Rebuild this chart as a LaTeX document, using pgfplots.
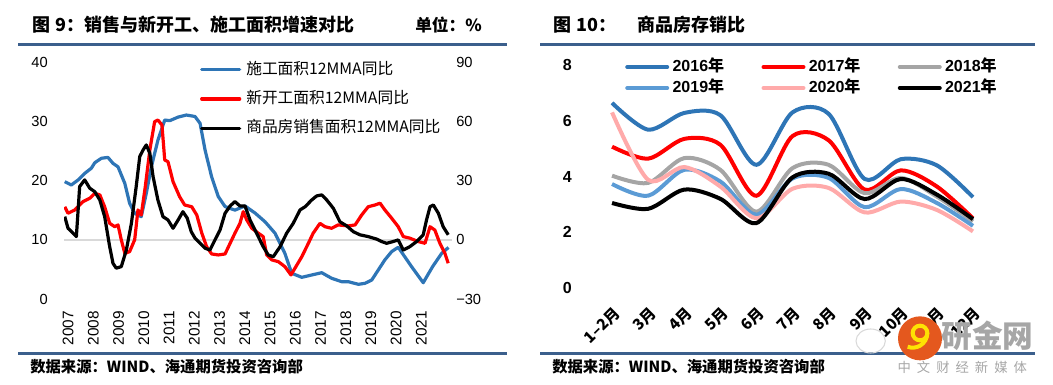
\documentclass[border=0pt]{standalone}
\usepackage{fontspec}
\setmainfont{Liberation Sans}
\newfontfamily\cjk{Noto Sans CJK SC}
\usepackage{pgfplots}
\pgfplotsset{compat=1.18}
\definecolor{rulec}{RGB}{59,95,140}
\definecolor{xblue}{RGB}{46,117,182}
\definecolor{xred}{RGB}{255,0,0}
\definecolor{c16}{RGB}{46,117,182}
\definecolor{c17}{RGB}{255,0,0}
\definecolor{c18}{RGB}{165,165,165}
\definecolor{c19}{RGB}{91,155,213}
\definecolor{c20}{RGB}{255,170,170}
\definecolor{c21}{RGB}{0,0,0}
\definecolor{logoor}{RGB}{228,88,30}
\begin{document}
\begin{tikzpicture}
\useasboundingbox (0,0) rectangle (789.75pt,288.75pt);
% rules
\fill[rulec] (13.5pt,254.25pt) rectangle (380.25pt,256.5pt);
\fill[rulec] (13.5pt,22.5pt) rectangle (380.25pt,24.75pt);
\fill[rulec] (405pt,254.25pt) rectangle (776.25pt,256.5pt);
\fill[rulec] (405pt,22.5pt) rectangle (776.25pt,24.75pt);
% titles
\node[anchor=west,inner sep=0pt] at (24pt,270pt) {\cjk\bfseries\fontsize{13.5}{15}\selectfont 图\hspace{4pt}9：销售与新开工、施工面积增速对比};
\node[anchor=west,inner sep=0pt] at (311.25pt,270pt) {\cjk\bfseries\fontsize{12.5}{14}\selectfont 单位：\%};
\node[anchor=west,inner sep=0pt] at (414.75pt,270pt) {\cjk\bfseries\fontsize{13.5}{15}\selectfont 图\hspace{4pt}10：};
\node[anchor=west,inner sep=0pt] at (477.75pt,270pt) {\cjk\bfseries\fontsize{13.5}{15}\selectfont 商品房存销比};
\node[anchor=west,inner sep=0pt] at (22.5pt,13.5pt) {\cjk\bfseries\fontsize{11.5}{13}\selectfont 数据来源：WIND、海通期货投资咨询部};
\node[anchor=west,inner sep=0pt] at (414pt,13.5pt) {\cjk\bfseries\fontsize{11.5}{13}\selectfont 数据来源：WIND、海通期货投资咨询部};

% ---------- left panel, left axis ----------
\begin{axis}[
  at={(48pt,64.5pt)}, anchor=south west, width=291pt, height=177.75pt, scale only axis,
  xmin=2006.84, xmax=2022.21, ymin=0, ymax=40,
  axis line style={draw=none}, major tick length=0pt,
  ytick={0,10,20,30,40},
  /pgf/number format/assume math mode=true,
  yticklabel style={font=\fontsize{11}{13}\selectfont, inner sep=0pt},
  yticklabel shift=12pt,
  xtick={2007,2008,2009,2010,2011,2012,2013,2014,2015,2016,2017,2018,2019,2020,2021},
  xticklabels={2007,2008,2009,2010,2011,2012,2013,2014,2015,2016,2017,2018,2019,2020,2021},
  xticklabel style={font=\fontsize{11.5}{13}\selectfont, rotate=90, anchor=east, inner sep=0pt},
  xticklabel shift=9pt,
  extra y ticks={10}, extra y tick labels={},
  extra y tick style={grid=major, major grid style={draw=black!15, line width=1.2pt}},
]
\addplot[xblue, line width=2.4pt, line join=round] coordinates {
(2006.87,19.8)(2007.13,19.24)(2007.40,20.1)(2007.66,21.2)(2007.92,22.06)(2008.06,23.0)(2008.32,23.75)(2008.58,23.9)(2008.78,22.9)(2008.98,22.3)(2009.25,19.5)(2009.44,16.15)(2009.64,14.46)(2009.90,13.9)(2010.10,17.84)(2010.30,22.3)(2010.56,26.8)(2010.83,30.2)(2011.03,30.1)(2011.36,30.7)(2011.69,31.05)(2012.03,30.8)(2012.23,29.65)(2012.43,25.1)(2012.69,20.6)(2012.95,17.3)(2013.22,15.6)(2013.61,15.0)(2014.01,15.7)(2014.41,14.5)(2014.80,13.05)(2015.20,11.1)(2015.59,7.7)(2015.86,4.34)(2016.26,3.66)(2016.65,4.05)(2017.05,4.44)(2017.44,3.5)(2017.84,2.92)(2018.10,2.92)(2018.50,2.48)(2018.76,2.64)(2019.03,3.2)(2019.29,4.9)(2019.55,6.6)(2019.82,8.0)(2020.08,8.73)(2020.61,5.45)(2021.07,2.75)(2021.44,5.45)(2021.80,7.7)(2022.07,8.7)
};
\end{axis}

% ---------- left panel, right axis ----------
\begin{axis}[
  at={(48pt,64.5pt)}, anchor=south west, width=291pt, height=177.75pt, scale only axis,
  xmin=2006.84, xmax=2022.21, ymin=-30, ymax=90,
  hide x axis, axis y line*=right,
  axis line style={draw=none}, major tick length=0pt,
  ytick={-30,0,30,60,90}, yticklabels={−30,0,30,60,90},
  yticklabel style={font=\fontsize{11}{13}\selectfont, anchor=west, inner sep=0pt},
  yticklabel shift=3pt,
  legend cell align=left,
  legend image code/.code={\draw[#1, line cap=round] (0pt,0pt) -- (28.5pt,0pt);},
  legend style={at={(0.35,1.0)}, anchor=north west, draw=none, fill=none, inner sep=0pt,
    row sep=11pt, font=\cjk\fontsize{11.8}{13}\selectfont,
    nodes={inner sep=0pt, text height=9pt, text depth=2pt},
    /tikz/every odd column/.append style={column sep=3.75pt}},
]
\addlegendimage{xblue, line width=2.4pt}
\addlegendentry{施工面积12MMA同比}
\addplot[xred, line width=2.4pt, line join=round] coordinates {
(2006.87,16.7)(2007.0,13.4)(2007.27,15.1)(2007.59,19.3)(2007.86,21.0)(2008.06,23.5)(2008.26,22.7)(2008.45,16.7)(2008.65,8.3)(2008.85,6.6)(2008.98,7.5)(2009.11,-0.1)(2009.25,-6.9)(2009.44,-6.0)(2009.64,0)(2009.77,15.1)(2009.90,12.5)(2010.06,26.9)(2010.24,45.4)(2010.43,59.8)(2010.56,60.6)(2010.72,58.1)(2010.83,40.4)(2010.96,39.5)(2011.16,29.4)(2011.42,21.8)(2011.62,17.6)(2011.90,16.7)(2012.10,12.5)(2012.30,3.3)(2012.49,-3.5)(2012.69,-7.2)(2012.95,-7.7)(2013.22,-7.2)(2013.42,-1.8)(2013.61,3.3)(2013.81,8.3)(2013.94,14.2)(2014.08,10.0)(2014.28,5.8)(2014.54,3.3)(2014.73,1.6)(2014.87,-7.7)(2015.07,-10.2)(2015.33,-11.1)(2015.59,-13.6)(2015.83,-17.8)(2015.99,-14.4)(2016.26,-8.6)(2016.52,-1.8)(2016.71,3.3)(2016.98,8.3)(2017.18,6.6)(2017.44,5.8)(2017.70,7.5)(2018.10,7.0)(2018.37,7.5)(2018.63,12.5)(2018.89,16.7)(2019.16,17.6)(2019.36,18.5)(2019.55,15.1)(2019.82,10.9)(2020.08,6.6)(2020.28,1.6)(2020.54,0.8)(2020.87,-0.9)(2021.14,-1.8)(2021.34,6.6)(2021.53,4.9)(2021.73,-1.8)(2021.93,-6.9)(2022.06,-11.9)
};
\addlegendentry{新开工面积12MMA同比}
\addplot[black, line width=2.4pt, line join=round] coordinates {
(2006.87,11.7)(2007.0,5.8)(2007.2,3.3)(2007.33,1.6)(2007.46,26.9)(2007.66,30.3)(2007.86,26.1)(2008.06,24.3)(2008.26,20.1)(2008.45,11.7)(2008.65,-3.5)(2008.78,-11.9)(2008.91,-14.4)(2009.11,-13.6)(2009.31,-5.2)(2009.51,8.3)(2009.70,26.9)(2009.84,42.1)(2009.97,45.4)(2010.10,48.0)(2010.24,43.8)(2010.37,31.9)(2010.56,20.1)(2010.76,11.7)(2010.96,10.0)(2011.16,5.8)(2011.36,10.0)(2011.55,14.2)(2011.72,11.0)(2011.88,4.1)(2012.03,0.8)(2012.23,-1.8)(2012.43,-4.3)(2012.62,-5.2)(2012.82,-0.1)(2013.02,4.9)(2013.22,13.4)(2013.42,17.1)(2013.61,19.3)(2013.81,17.1)(2014.01,17.1)(2014.21,10.0)(2014.47,3.3)(2014.73,-3.5)(2014.93,-7.7)(2015.13,-8.6)(2015.40,-3.5)(2015.66,3.3)(2015.92,8.3)(2016.19,15.1)(2016.39,16.7)(2016.65,20.1)(2016.85,22.2)(2017.05,22.7)(2017.25,20.1)(2017.51,15.9)(2017.77,9.1)(2018.04,7.0)(2018.30,4.1)(2018.56,2.5)(2018.89,1.6)(2019.23,0.3)(2019.42,-0.9)(2019.62,-1.8)(2019.88,-0.9)(2020.08,-0.1)(2020.28,-5.2)(2020.54,-3.5)(2020.81,-0.9)(2021.07,2.5)(2021.20,10.0)(2021.34,16.7)(2021.47,17.6)(2021.67,13.4)(2021.86,6.6)(2022.06,2.5)
};
\addlegendentry{商品房销售面积12MMA同比}
\end{axis}

% ---------- right panel ----------
\begin{axis}[
  at={(445.5pt,72.75pt)}, anchor=south west, width=297.75pt, height=167.25pt, scale only axis,
  xmin=-0.5, xmax=10.5, ymin=0, ymax=8,
  axis line style={draw=none}, major tick length=0pt,
  ytick={0,2,4,6,8},
  /pgf/number format/assume math mode=true,
  yticklabel style={font=\bfseries\fontsize{12}{14}\selectfont, inner sep=0pt},
  yticklabel shift=16.5pt,
  xtick={0,1,2,3,4,5,6,7,8,9,10},
  xticklabels={1–2月,3月,4月,5月,6月,7月,8月,9月,10月,11月,12月},
  xticklabel style={font=\cjk\bfseries\fontsize{11.5}{13}\selectfont, rotate=45, anchor=north east, inner sep=0pt},
  xticklabel shift=13pt,
  legend columns=3,
  legend cell align=left,
  legend image code/.code={\draw[#1, line cap=round] (0pt,0pt) -- (30pt,0pt);},
  legend style={at={(0.078,1.025)}, anchor=north west, draw=none, fill=none, inner sep=0pt,
    row sep=4.75pt, font=\bfseries\fontsize{12}{14}\selectfont,
    nodes={inner sep=0pt, text height=9pt, text depth=2pt},
    /tikz/every odd column/.append style={column sep=2.5pt},
    /tikz/every even column/.append style={column sep=28pt}},
]
\addplot[c16, line width=3pt, smooth] coordinates {(0,6.64)(1,5.68)(2,6.28)(3,6.2)(4,4.42)(5,6.3)(6,6.25)(7,3.91)(8,4.62)(9,4.4)(10,3.26)};
\addlegendentry{2016{\cjk 年}}
\addplot[c17, line width=3pt, smooth] coordinates {(0,5.07)(1,4.64)(2,5.35)(3,5.14)(4,3.31)(5,5.45)(6,5.3)(7,3.53)(8,4.22)(9,3.64)(10,2.5)};
\addlegendentry{2017{\cjk 年}}
\addplot[c18, line width=3pt, smooth] coordinates {(0,4.03)(1,3.77)(2,4.66)(3,4.24)(4,2.74)(5,4.3)(6,4.42)(7,3.4)(8,3.95)(9,3.28)(10,2.39)};
\addlegendentry{2018{\cjk 年}}
\addplot[c19, line width=3pt, smooth] coordinates {(0,3.73)(1,3.31)(2,4.24)(3,3.82)(4,2.63)(5,3.93)(6,3.95)(7,2.9)(8,3.55)(9,3.05)(10,2.23)};
\addlegendentry{2019{\cjk 年}}
\addplot[c20, line width=3pt, smooth] coordinates {(0,6.3)(1,3.88)(2,4.34)(3,3.64)(4,2.5)(5,3.56)(6,3.59)(7,2.71)(8,3.1)(9,2.8)(10,2.03)};
\addlegendentry{2020{\cjk 年}}
\addplot[c21, line width=3pt, smooth] coordinates {(0,3.05)(1,2.84)(2,3.53)(3,3.2)(4,2.33)(5,3.97)(6,4.1)(7,3.19)(8,3.91)(9,3.35)(10,2.47)};
\addlegendentry{2021{\cjk 年}}
\end{axis}

% watermark
\draw[black!15, line width=0.8pt] (653pt,33pt) ellipse [x radius=11pt, y radius=9pt];
\fill[logoor] (690pt,35pt) circle [radius=16.5pt];
\draw[yellow!85!orange, line width=3pt] (690pt,39pt) circle [radius=5.5pt];
\draw[yellow!85!orange, line width=3pt] (695.5pt,39pt) arc [start angle=0, end angle=-110, radius=11pt];
\node[anchor=west,inner sep=0pt,text=black!35] at (706pt,37pt) {\cjk\bfseries\fontsize{23}{25}\selectfont 研金网};
\node[anchor=west,inner sep=0pt,text=black!35] at (673pt,13.5pt) {\cjk\fontsize{10}{12}\selectfont 中\hspace{4.5pt}文\hspace{4.5pt}财\hspace{4.5pt}经\hspace{4.5pt}新\hspace{4.5pt}媒\hspace{4.5pt}体};
\end{tikzpicture}
\end{document}
